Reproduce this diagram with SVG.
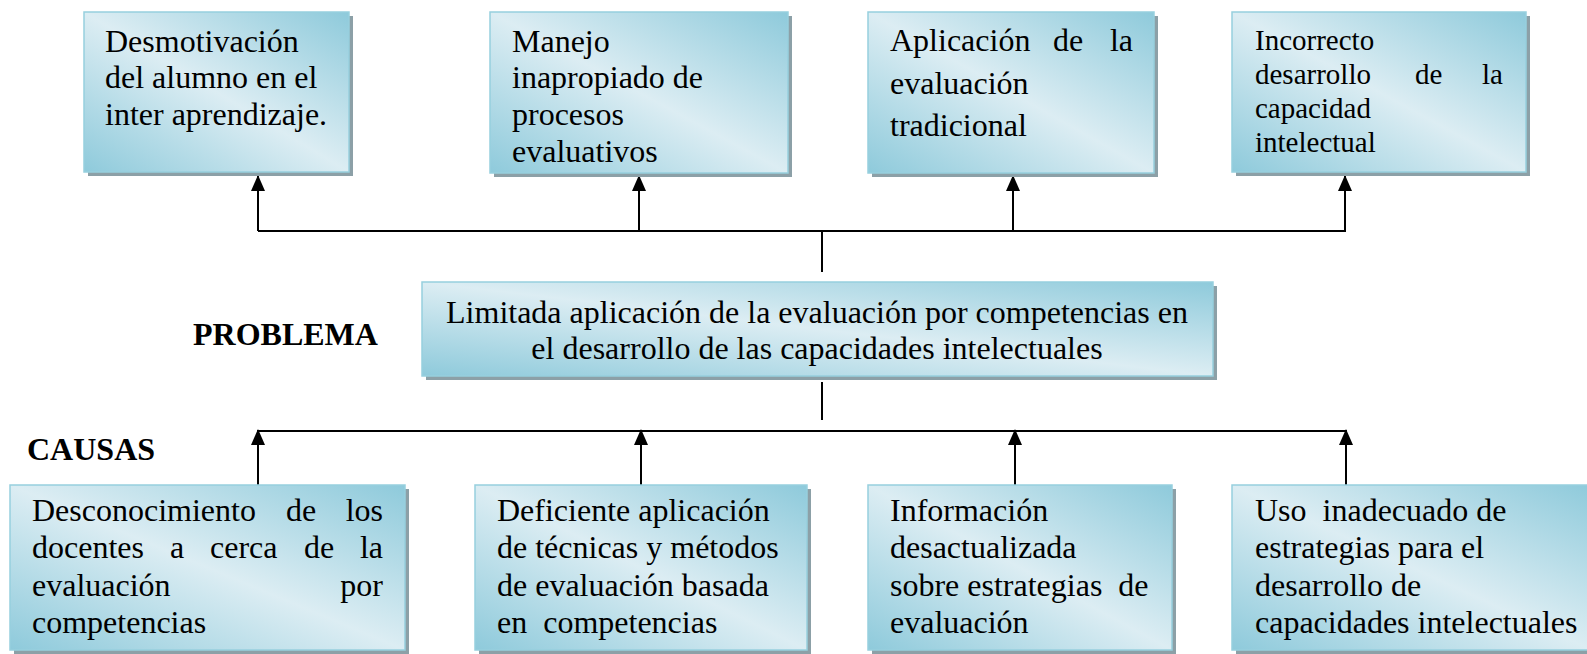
<svg xmlns="http://www.w3.org/2000/svg" width="1587" height="654" viewBox="0 0 1587 654">
<defs>
<linearGradient id="g" x1="1" y1="0" x2="0" y2="1">
<stop offset="0" stop-color="#8ecadb"/>
<stop offset="0.5" stop-color="#dcedf3"/>
<stop offset="1" stop-color="#8ecadb"/>
</linearGradient>
<marker id="ah" viewBox="0 0 16 14" refX="15" refY="7" markerWidth="16" markerHeight="14" markerUnits="userSpaceOnUse" orient="auto">
<path d="M0,0 L16,7 L0,14 Z" fill="#000"/>
</marker>
</defs>
<style>
.sh{fill:#8ca0a7}
.bx{fill:url(#g);stroke:#97cfde;stroke-width:1.5}
.t{font-family:"Liberation Serif","Times New Roman",serif;font-size:32px;fill:#000;white-space:pre}
.s{font-size:29px}
.b{font-weight:bold}
.c{stroke:#000;stroke-width:2;fill:none}
.e{text-anchor:end}
.m{text-anchor:middle}
</style>
<rect width="1587" height="654" fill="#fff"/>

<g id="connectors">
<line class="c" x1="258" y1="231" x2="1346" y2="231"/>
<line class="c" x1="822" y1="231" x2="822" y2="272"/>
<line class="c" x1="258" y1="231" x2="258" y2="176" marker-end="url(#ah)"/>
<line class="c" x1="639" y1="231" x2="639" y2="176" marker-end="url(#ah)"/>
<line class="c" x1="1013" y1="231" x2="1013" y2="176" marker-end="url(#ah)"/>
<line class="c" x1="1345" y1="231" x2="1345" y2="176" marker-end="url(#ah)"/>
<line class="c" x1="822" y1="382" x2="822" y2="420"/>
<line class="c" x1="258" y1="431" x2="1346" y2="431"/>
<line class="c" x1="258" y1="485" x2="258" y2="430" marker-end="url(#ah)"/>
<line class="c" x1="641" y1="485" x2="641" y2="430" marker-end="url(#ah)"/>
<line class="c" x1="1015" y1="485" x2="1015" y2="430" marker-end="url(#ah)"/>
<line class="c" x1="1346" y1="485" x2="1346" y2="430" marker-end="url(#ah)"/>
</g>

<g id="efecto1">
<rect class="sh" x="88" y="16" width="265" height="160"/>
<rect class="bx" x="84" y="12" width="265" height="160"/>
<text class="t" x="105" y="52">Desmotivación</text>
<text class="t" x="105" y="88">del alumno en el</text>
<text class="t" x="105" y="125">inter aprendizaje.</text>
</g>

<g id="efecto2">
<rect class="sh" x="494" y="16" width="298" height="161"/>
<rect class="bx" x="490" y="12" width="298" height="161"/>
<text class="t" x="512" y="52">Manejo</text>
<text class="t" x="512" y="88">inapropiado de</text>
<text class="t" x="512" y="125">procesos</text>
<text class="t" x="512" y="162">evaluativos</text>
</g>

<g id="efecto3">
<rect class="sh" x="872" y="16" width="286" height="161"/>
<rect class="bx" x="868" y="12" width="286" height="161"/>
<text class="t" x="890" y="51">Aplicación</text>
<text class="t" x="1053" y="51">de</text>
<text class="t e" x="1133" y="51">la</text>
<text class="t" x="890" y="94">evaluación</text>
<text class="t" x="890" y="136">tradicional</text>
</g>

<g id="efecto4">
<rect class="sh" x="1236" y="16" width="294" height="160"/>
<rect class="bx" x="1232" y="12" width="294" height="160"/>
<text class="t s" x="1255" y="50">Incorrecto</text>
<text class="t s" x="1255" y="84">desarrollo</text>
<text class="t s" x="1415" y="84">de</text>
<text class="t s e" x="1503" y="84">la</text>
<text class="t s" x="1255" y="118">capacidad</text>
<text class="t s" x="1255" y="152">intelectual</text>
</g>

<g id="problema-label">
<text class="t b" x="193" y="345">PROBLEMA</text>
</g>

<g id="problema">
<rect class="sh" x="426" y="286" width="791" height="94"/>
<rect class="bx" x="422" y="282" width="791" height="94"/>
<text class="t m" x="817" y="323">Limitada aplicación de la evaluación por competencias en</text>
<text class="t m" x="817" y="359">el desarrollo de las capacidades intelectuales</text>
</g>

<g id="causas-label">
<text class="t b" x="27" y="460">CAUSAS</text>
</g>

<g id="causa1">
<rect class="sh" x="14" y="489" width="395" height="165"/>
<rect class="bx" x="10" y="485" width="395" height="165"/>
<text class="t" x="32" y="521">Desconocimiento</text>
<text class="t" x="286" y="521">de</text>
<text class="t e" x="383" y="521">los</text>
<text class="t" x="32" y="558">docentes</text>
<text class="t" x="170" y="558">a</text>
<text class="t" x="210" y="558">cerca</text>
<text class="t" x="304" y="558">de</text>
<text class="t e" x="383" y="558">la</text>
<text class="t" x="32" y="596">evaluación</text>
<text class="t e" x="383" y="596">por</text>
<text class="t" x="32" y="633">competencias</text>
</g>

<g id="causa2">
<rect class="sh" x="479" y="489" width="332" height="165"/>
<rect class="bx" x="475" y="485" width="332" height="165"/>
<text class="t" x="497" y="521">Deficiente aplicación</text>
<text class="t" x="497" y="558">de técnicas y métodos</text>
<text class="t" x="497" y="596">de evaluación basada</text>
<text class="t" x="497" y="633">en  competencias</text>
</g>

<g id="causa3">
<rect class="sh" x="872" y="489" width="304" height="165"/>
<rect class="bx" x="868" y="485" width="304" height="165"/>
<text class="t" x="890" y="521">Información</text>
<text class="t" x="890" y="558">desactualizada</text>
<text class="t" x="890" y="596">sobre estrategias  de</text>
<text class="t" x="890" y="633">evaluación</text>
</g>

<g id="causa4">
<rect class="sh" x="1236" y="489" width="360" height="165"/>
<rect class="bx" x="1232" y="485" width="360" height="165"/>
<text class="t" x="1255" y="521">Uso  inadecuado de</text>
<text class="t" x="1255" y="558">estrategias para el</text>
<text class="t" x="1255" y="596">desarrollo de</text>
<text class="t" x="1255" y="633">capacidades intelectuales</text>
</g>
</svg>
